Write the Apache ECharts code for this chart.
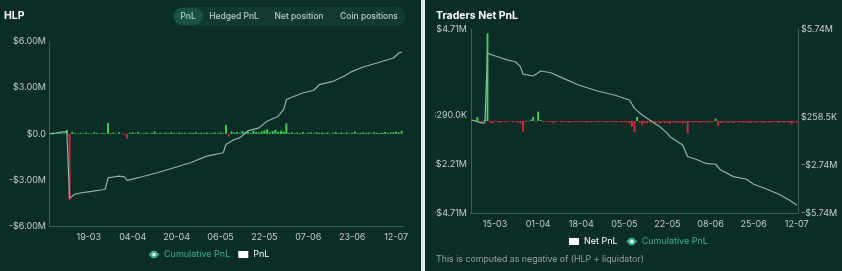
<!DOCTYPE html>
<html>
<head>
<meta charset="utf-8">
<script src="https://cdn.jsdelivr.net/npm/echarts@6/dist/echarts.min.js"></script>
<style>
html, body { margin: 0; padding: 0; width: 842px; height: 271px; overflow: hidden; background: #0b2d27; }
#hlp { position: absolute; left: 0; top: 0; width: 421px; height: 271px; }
#divider { position: absolute; left: 421px; top: 0; width: 4px; height: 271px; background: #e4ebe9; }
#traders { position: absolute; left: 435px; top: 0; width: 407px; height: 271px; }
</style>
</head>
<body>
<div id="hlp"></div>
<div id="divider"></div>
<div id="traders"></div>
<script>
// daily 'DD-MM' categories between two dates (some days missing in the HLP feed)
function dayRange (from, to, skip) {
  const out = []
  const end = new Date(to + 'T00:00:00Z')
  for (let d = new Date(from + 'T00:00:00Z'); d <= end; d.setUTCDate(d.getUTCDate() + 1)) {
    const s = String(d.getUTCDate()).padStart(2, '0') + '-' + String(d.getUTCMonth() + 1).padStart(2, '0')
    if (!skip.includes(s)) out.push(s)
  }
  return out
}

const hlpDates = dayRange('2024-03-05', '2024-07-14', ['30-06', '01-07', '02-07'])
const hlpLabels = ['19-03', '04-04', '20-04', '06-05', '22-05', '07-06', '23-06', '12-07']
const netDates = dayRange('2024-03-06', '2024-07-12', [])
const netLabels = ['15-03', '01-04', '18-04', '05-05', '22-05', '08-06', '25-06', '12-07']

// values in $M
const hlpPnl = [
  0.05, 0.08, 0.02, 0.06, 0.1, 0.04, 0.25, -4.3, 0.12, 0.05,
  0.03, 0.06, 0.02, 0.08, 0.04, 0.03, 0.1, 0.05, 0.02, 0.06,
  0.04, 0.7, 0.05, 0.08, 0.03, 0.1, 0.02, -0.08, -0.32, 0.06,
  0.1, 0.04, 0.12, 0.03, 0.05, 0.08, 0.02, 0.06, 0.15, 0.04,
  0.07, 0.03, 0.08, 0.05, 0.1, 0.06, 0.04, 0.09, 0.05, 0.07,
  0.03, 0.08, 0.06, 0.1, 0.04, 0.07, 0.05, 0.09, 0.03, 0.06,
  0.08, 0.04, 0.1, 0.05, 0.6, -0.18, 0.15, 0.08, 0.12, 0.05,
  0.18, 0.1, 0.14, 0.06, 0.2, 0.12, 0.08, 0.16, 0.22, 0.3,
  0.1, 0.18, 0.25, 0.12, 0.2, 0.15, 0.68, 0.06, 0.1, 0.04,
  0.08, 0.05, 0.12, 0.03, 0.07, 0.09, 0.04, 0.11, 0.06, 0.08,
  0.05, 0.1, 0.03, 0.07, 0.12, 0.05, 0.09, 0.06, 0.1, 0.04,
  0.08, 0.13, 0.05, 0.07, 0.1, 0.06, 0.09, 0.04, 0.11, 0.07,
  0.05, 0.08, 0.12, 0.06, 0.09, 0.1, 0.14, 0.08, 0.18
]
// [day index, $M]
const hlpCumulative = [
  [0, 0.0], [2, 0.05], [4, 0.12], [6, 0.15], [7, -4.2], [9, -3.92], [11, -3.85], [15, -3.75],
  [19, -3.64], [20, -3.6], [21, -2.86], [25, -2.75], [27, -2.8], [28, -3.03], [31, -2.9],
  [33, -2.81], [39, -2.53], [45, -2.21], [51, -1.88], [57, -1.45], [63, -1.23], [64, -0.69],
  [67, -0.37], [69, -0.26], [72, 0.19], [76, 0.39], [79, 0.82], [83, 1.15], [85, 1.58],
  [86, 2.23], [88, 2.38], [92, 2.66], [96, 2.84], [98, 3.2], [103, 3.42], [107, 3.75],
  [110, 4.07], [114, 4.35], [119, 4.61], [125, 4.94], [127, 5.26], [128, 5.32]
]

const netPnl = [
  0.05, -0.03, 0.2, -0.06, -0.1, 0.08, 4.49, -0.08, -0.12, -0.04,
  -0.06, -0.1, -0.03, -0.07, -0.05, -0.02, -0.06, -0.04, -0.08, -0.12,
  -0.55, -0.05, -0.03, 0.06, 0.2, -0.04, 0.48, 0.05, -0.06, -0.03,
  -0.05, -0.06, -0.12, -0.06, -0.03, -0.07, -0.05, -0.04, -0.08, -0.06,
  -0.03, -0.07, -0.05, -0.06, -0.04, -0.08, -0.05, -0.06, -0.04, -0.07,
  -0.05, -0.03, -0.06, -0.08, -0.04, -0.05, -0.07, -0.06, -0.04, -0.08,
  -0.05, -0.06, -0.1, -0.3, -0.58, 0.2, -0.08, -0.2, -0.1, -0.12,
  -0.08, -0.06, -0.1, -0.07, -0.12, -0.08, -0.1, -0.09, -0.14, -0.06,
  -0.08, -0.1, -0.07, -0.12, -0.09, -0.63, -0.06, -0.08, -0.05, -0.07,
  -0.09, -0.06, -0.08, -0.05, -0.07, -0.04, 0.12, -0.25, -0.1, -0.08,
  -0.06, -0.09, -0.07, -0.1, -0.05, -0.08, -0.06, -0.09, -0.07, -0.1,
  -0.08, -0.06, -0.09, -0.05, -0.07, -0.1, -0.06, -0.08, -0.09, -0.05,
  -0.07, -0.1, -0.06, -0.08, -0.05, -0.09, -0.15, -0.07, -0.08
]
const netCumulative = [
  [0, 0.06], [2, -0.04], [4, -0.14], [5, -0.1], [6, 4.22], [10, 4.01], [14, 3.8], [17, 3.7],
  [19, 3.39], [20, 2.93], [24, 2.81], [26, 3.01], [27, 3.12], [31, 3.01], [36, 2.66],
  [42, 2.25], [49, 1.89], [56, 1.62], [62, 1.31], [64, 0.79], [67, 0.37], [70, 0.06],
  [74, -0.36], [77, -0.77], [78, -0.98], [83, -1.5], [85, -2.23], [88, -2.37], [92, -2.64],
  [96, -2.7], [98, -3.06], [103, -3.47], [108, -3.62], [111, -3.95], [116, -4.24],
  [121, -4.57], [125, -4.93], [128, -5.24]
]
const netLeftTicks = [4.71, 0.29, -2.21, -4.71]
const netRightTicks = [5.7415, 0.2585, -2.7415, -5.7415]

const GREEN = '#3fd452'
const RED = '#d8283c'
const LINE = '#8bb8ab'
const TEAL = '#3db48f'
const AXIS = '#3e6058'
const LABEL = '#c3ceca'
const FONT = 'Inter, sans-serif'

function money (v) {
  const a = Math.abs(v)
  const s = v < 0 ? '-' : ''
  if (a < 1e-9) return '$0.0'
  if (a >= 1) return s + '$' + a.toFixed(2) + 'M'
  return s + '$' + (a * 1000).toFixed(1) + 'K'
}
const barColor = p => (p.value >= 0 ? GREEN : RED)

const xAxisBase = (dates, labels) => ({
  type: 'category',
  data: dates,
  boundaryGap: true,
  axisLine: { onZero: false, lineStyle: { color: AXIS } },
  axisTick: { show: false },
  axisLabel: {
    interval: (i, v) => labels.includes(v),
    color: LABEL, fontSize: 9, fontFamily: FONT, margin: 7
  }
})

// 绘制左边 HLP
const hlpChart = echarts.init(document.getElementById('hlp'))
const tabs = [
  { t: 'PnL', x: 188, c: '#9bd8c2' },
  { t: 'Hedged PnL', x: 234, c: '#bccdc7' },
  { t: 'Net position', x: 299, c: '#bccdc7' },
  { t: 'Coin positions', x: 369, c: '#bccdc7' }
]
hlpChart.setOption({
  animation: false,
  textStyle: { fontFamily: FONT },
  title: {
    text: 'HLP', left: 4, top: 10, padding: 0,
    textStyle: { color: '#ffffff', fontSize: 10.5, fontWeight: 'bold', fontFamily: FONT }
  },
  graphic: [
    { type: 'rect', shape: { x: 173, y: 7, width: 233, height: 19, r: 9.5 }, style: { fill: '#0f3a31' } },
    { type: 'rect', shape: { x: 174, y: 8, width: 29, height: 17, r: 8.5 }, style: { fill: '#1b5143' } }
  ].concat(tabs.map(d => ({
    type: 'text',
    style: { text: d.t, x: d.x, y: 16.5, align: 'center', verticalAlign: 'middle', fill: d.c, font: '500 8.5px Inter' }
  }))),
  legend: {
    left: 148, top: 250, itemWidth: 10, itemHeight: 7, itemGap: 8, padding: 0,
    textStyle: { fontSize: 9, fontFamily: FONT },
    data: [
      { name: 'Cumulative PnL', itemStyle: { color: TEAL }, lineStyle: { color: TEAL }, textStyle: { color: TEAL } },
      { name: 'PnL', icon: 'rect', itemStyle: { color: '#ffffff' }, textStyle: { color: '#ffffff' } }
    ]
  },
  grid: { left: 49, right: 18, top: 41.7, bottom: 45, outerBoundsMode: 'none' },
  xAxis: xAxisBase(hlpDates, hlpLabels),
  yAxis: {
    type: 'value', min: -6, max: 6, interval: 3,
    splitLine: { show: false },
    axisLine: { show: true, lineStyle: { color: AXIS } },
    axisTick: { show: false },
    axisLabel: { formatter: money, color: LABEL, fontSize: 9, fontFamily: FONT, margin: 3 }
  },
  series: [
    {
      name: 'PnL', type: 'bar', data: hlpPnl, barCategoryGap: '30%',
      itemStyle: { color: barColor }
    },
    {
      name: 'Cumulative PnL', type: 'line', data: hlpCumulative, showSymbol: false,
      lineStyle: { color: LINE, width: 1.2 }, itemStyle: { color: LINE }, z: 3
    }
  ]
})

// 右边 Traders Net PnL
const netChart = echarts.init(document.getElementById('traders'))
netChart.setOption({
  animation: false,
  textStyle: { fontFamily: FONT },
  title: {
    text: 'Traders Net PnL', left: 1, top: 10, padding: 0,
    textStyle: { color: '#ffffff', fontSize: 10.5, fontWeight: 'bold', fontFamily: FONT }
  },
  graphic: [
    {
      type: 'text',
      style: { text: 'This is computed as negative of (HLP + liquidator)', x: 1, y: 259, verticalAlign: 'middle', fill: '#93a49f', font: '8.8px Inter' }
    }
  ],
  legend: {
    left: 134, top: 237, itemWidth: 10, itemHeight: 7, itemGap: 8, padding: 0,
    textStyle: { fontSize: 9, fontFamily: FONT },
    data: [
      { name: 'Net PnL', icon: 'rect', itemStyle: { color: '#ffffff' }, textStyle: { color: '#ffffff' } },
      { name: 'Cumulative PnL', itemStyle: { color: TEAL }, lineStyle: { color: TEAL }, textStyle: { color: TEAL } }
    ]
  },
  grid: { left: 36, right: 44, top: 29, bottom: 58, outerBoundsMode: 'none' },
  xAxis: xAxisBase(netDates, netLabels),
  yAxis: [
    {
      type: 'value', min: -4.71, max: 4.71,
      splitLine: { show: false },
      axisLine: { show: true, lineStyle: { color: AXIS } },
      axisTick: { show: false },
      axisLabel: { customValues: netLeftTicks, formatter: money, color: LABEL, fontSize: 9, fontFamily: FONT, margin: 4 }
    },
    {
      type: 'value', min: -5.7415, max: 5.7415, position: 'right',
      splitLine: { show: false },
      axisLine: { show: true, lineStyle: { color: AXIS } },
      axisTick: { show: false },
      axisLabel: { customValues: netRightTicks, formatter: money, color: LABEL, fontSize: 9, fontFamily: FONT, margin: 3 }
    }
  ],
  series: [
    {
      name: 'Net PnL', type: 'bar', data: netPnl, yAxisIndex: 0, barCategoryGap: '25%',
      itemStyle: { color: barColor }
    },
    {
      name: 'Cumulative PnL', type: 'line', data: netCumulative, yAxisIndex: 1, showSymbol: false,
      lineStyle: { color: LINE, width: 1.2 }, itemStyle: { color: LINE }, z: 3
    }
  ]
})
</script>
</body>
</html>
